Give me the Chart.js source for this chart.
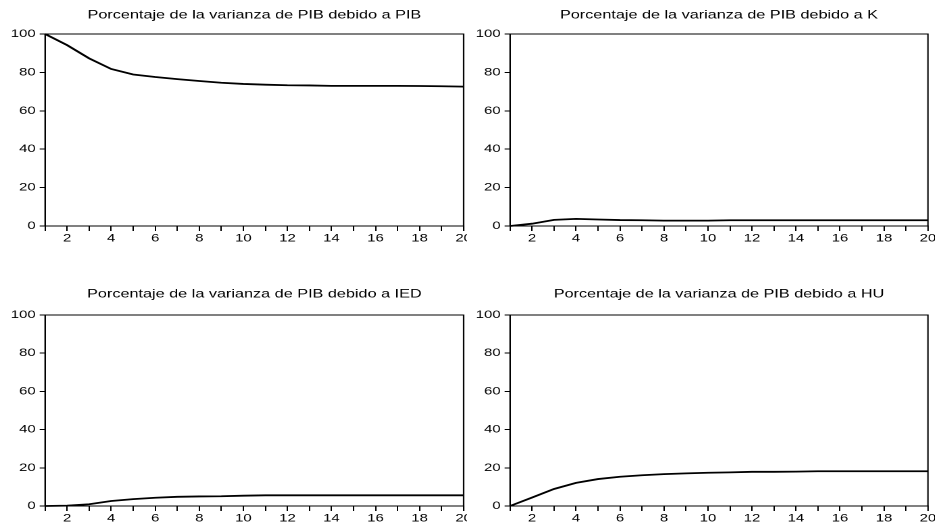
<!DOCTYPE html>
<html>
<head>
<meta charset="utf-8">
<script src="https://cdn.jsdelivr.net/npm/chart.js@4/dist/chart.umd.min.js"></script>
<style>
  html, body { margin: 0; padding: 0; background: #fff; overflow: hidden; }
  body { width: 935px; height: 524px; position: relative; }
  .panel { position: absolute; transform-origin: 0 0; }
</style>
</head>
<body>
<div class="panel" id="p0"><canvas id="c0"></canvas></div>
<div class="panel" id="p1"><canvas id="c1"></canvas></div>
<div class="panel" id="p2"><canvas id="c2"></canvas></div>
<div class="panel" id="p3"><canvas id="c3"></canvas></div>
<script>
// forecast horizon (periods)
const periods = [1, 2, 3, 4, 5, 6, 7, 8, 9, 10, 11, 12, 13, 14, 15, 16, 17, 18, 19, 20];

// variance decomposition of PIB (%)
const pibShare = [100, 94.2, 87.3, 81.8, 78.9, 77.6, 76.5, 75.5, 74.6, 74.0, 73.6, 73.3, 73.2, 73.0, 73.0, 73.0, 73.0, 72.9, 72.8, 72.6];
const kShare   = [0, 1.2, 3.2, 3.7, 3.4, 3.1, 3.0, 2.8, 2.8, 2.8, 3.0, 3.0, 3.0, 3.0, 3.0, 3.0, 3.0, 3.0, 3.0, 3.0];
const iedShare = [0, 0.2, 0.9, 2.6, 3.6, 4.3, 4.8, 5.0, 5.1, 5.4, 5.6, 5.6, 5.6, 5.6, 5.6, 5.6, 5.6, 5.6, 5.6, 5.6];
const huShare  = [0, 4.4, 8.9, 12.1, 14.1, 15.3, 16.1, 16.7, 17.1, 17.4, 17.6, 17.9, 17.9, 18.0, 18.2, 18.2, 18.2, 18.2, 18.2, 18.2];

const yTicks = [0, 20, 40, 60, 80, 100];
const titles = [
  "Porcentaje de la varianza de PIB debido a PIB",
  "Porcentaje de la varianza de PIB debido a K",
  "Porcentaje de la varianza de PIB debido a IED",
  "Porcentaje de la varianza de PIB debido a HU"
];
const series = [pibShare, kShare, iedShare, huShare];

// the source picture is widened horizontally, so every panel is stretched the same way
const STRETCH = 1.35;
const FONT = "'Liberation Sans', Arial, sans-serif";

// where each panel sits on the page and where its plot box lies inside it
const panels = [
  { left: 0,   top: 0,   width: 467, height: 262, plotLeft: 45, plotRight: 463, plotTop: 34, plotBottom: 226, titleY: 15 },
  { left: 465, top: 0,   width: 470, height: 262, plotLeft: 45, plotRight: 463, plotTop: 34, plotBottom: 226, titleY: 15 },
  { left: 0,   top: 281, width: 467, height: 262, plotLeft: 45, plotRight: 463, plotTop: 34, plotBottom: 225, titleY: 13 },
  { left: 465, top: 281, width: 470, height: 262, plotLeft: 45, plotRight: 463, plotTop: 34, plotBottom: 225, titleY: 13 }
];

// box round the plot area, like the EViews frame
const framePlugin = {
  id: "frame",
  afterDraw(chart) {
    const { ctx, chartArea: a } = chart;
    ctx.save();
    ctx.strokeStyle = "#000";
    ctx.lineWidth = 1;
    ctx.strokeRect(a.left, a.top, a.right - a.left, a.bottom - a.top);
    ctx.restore();
  }
};

const TITLE_SIZE = 12;
const TICK_SIZE = 11;

panels.forEach((p, i) => {
  const box = document.getElementById("p" + i);
  box.style.left = p.left + "px";
  box.style.top = p.top + "px";
  box.style.width = (p.width / STRETCH) + "px";
  box.style.height = p.height + "px";
  box.style.transform = "scaleX(" + STRETCH + ")";

  const titleH = TITLE_SIZE * 1.2;
  const padTop = p.titleY - titleH / 2;
  const titleGap = p.plotTop - padTop - titleH;

  new Chart(document.getElementById("c" + i), {
    type: "line",
    data: {
      labels: periods,
      datasets: [{
        data: series[i].map((v, k) => ({ x: periods[k], y: v })),
        borderColor: "#000",
        borderWidth: 1.8,
        pointRadius: 0,
        tension: 0,
        clip: false
      }]
    },
    options: {
      responsive: true,
      maintainAspectRatio: false,
      animation: false,
      devicePixelRatio: 2,
      layout: {
        padding: { left: 0, right: (p.width - p.plotRight) / STRETCH, top: padTop, bottom: 0 }
      },
      plugins: {
        legend: { display: false },
        tooltip: { enabled: false },
        title: {
          display: true,
          text: titles[i],
          fullSize: false,
          color: "#000",
          font: { family: FONT, size: TITLE_SIZE, weight: "normal" },
          padding: { top: 0, bottom: titleGap }
        }
      },
      scales: {
        x: {
          type: "linear",
          min: 1,
          max: 20,
          afterFit(scale) {
            scale.height = p.height - p.plotBottom;
            scale.paddingLeft = 0;
            scale.paddingRight = 0;
          },
          ticks: {
            stepSize: 1,
            autoSkip: false,
            maxRotation: 0,
            padding: 1,
            color: "#000",
            font: { family: FONT, size: TICK_SIZE },
            callback: (v) => (v % 2 === 0 ? String(v) : "")
          },
          grid: { drawOnChartArea: false, drawTicks: true, tickLength: 5, color: "#000" },
          border: { color: "#000" }
        },
        y: {
          min: 0,
          max: 100,
          afterFit(scale) {
            scale.width = p.plotLeft / STRETCH;
            scale.paddingTop = 0;
            scale.paddingBottom = 0;
          },
          afterBuildTicks(scale) {
            scale.ticks = yTicks.map((v) => ({ value: v }));
          },
          ticks: {
            padding: 3,
            color: "#000",
            font: { family: FONT, size: TICK_SIZE }
          },
          grid: { drawOnChartArea: false, drawTicks: true, tickLength: 4, color: "#000" },
          border: { color: "#000" }
        }
      }
    },
    plugins: [framePlugin]
  });
});
</script>
</body>
</html>
